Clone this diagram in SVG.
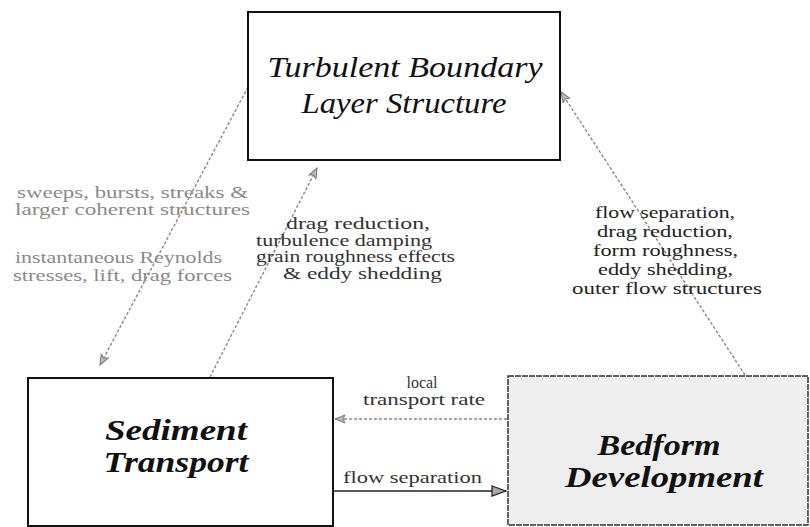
<svg xmlns="http://www.w3.org/2000/svg" width="810" height="527" viewBox="0 0 810 527">
<defs>
<marker id="ah" viewBox="0 0 12 10" refX="11" refY="5" markerWidth="12" markerHeight="10" markerUnits="userSpaceOnUse" orient="auto">
<path d="M1,1 L11,5 L1,9 L3,5 Z" fill="#bbb" stroke="#777" stroke-width="1"/>
</marker>
<marker id="ahs" viewBox="0 0 16 12" refX="15" refY="6" markerWidth="16" markerHeight="12" markerUnits="userSpaceOnUse" orient="auto">
<path d="M1,1 L15,6 L1,11 Z" fill="#aaa" stroke="#222" stroke-width="1.3"/>
</marker>
</defs>
<style>
.box{fill:#fff;stroke:#111;stroke-width:2}
.bed{fill:#eeeeee;stroke:#333;stroke-width:1.5;stroke-dasharray:6 1}
.title{font-family:"Liberation Serif",serif;font-style:italic;font-size:29px;fill:#111;text-anchor:middle}
.bold{font-weight:bold;font-size:30px}
.lbl{font-family:"Liberation Serif",serif;font-size:16px}
.gray{fill:#8a8a8a}
.mid{fill:#333}
.dark{fill:#222}
.dash{fill:none;stroke:#888;stroke-width:1.4;stroke-dasharray:3 2}
.solid{fill:none;stroke:#222;stroke-width:1.4}
</style>
<rect width="810" height="527" fill="#fff"/>
<g id="connectors">
<line class="dash" x1="248" y1="87" x2="100" y2="365" marker-end="url(#ah)"/>
<line class="dash" x1="210" y1="377" x2="317" y2="168" marker-end="url(#ah)"/>
<line class="dash" x1="745" y1="375" x2="561" y2="92" marker-end="url(#ah)"/>
<line class="dash" x1="507" y1="419" x2="335" y2="419" marker-end="url(#ah)"/>
<line class="solid" x1="334" y1="491" x2="506" y2="491" marker-end="url(#ahs)"/>
<g class="lbl gray">
<text x="17" y="198" textLength="231" lengthAdjust="spacingAndGlyphs">sweeps, bursts, streaks &amp;</text>
<text x="15" y="215" textLength="235" lengthAdjust="spacingAndGlyphs">larger coherent structures</text>
<text x="15" y="263" textLength="207" lengthAdjust="spacingAndGlyphs">instantaneous Reynolds</text>
<text x="13" y="281" textLength="219" lengthAdjust="spacingAndGlyphs">stresses, lift, drag forces</text>
</g>
<g class="lbl mid">
<text x="286" y="229" textLength="144" lengthAdjust="spacingAndGlyphs">drag reduction,</text>
<text x="256" y="246" textLength="176" lengthAdjust="spacingAndGlyphs">turbulence damping</text>
<text x="256" y="262" textLength="199" lengthAdjust="spacingAndGlyphs">grain roughness effects</text>
<text x="283" y="279" textLength="159" lengthAdjust="spacingAndGlyphs">&amp; eddy shedding</text>
</g>
<g class="lbl dark">
<text x="595" y="218" textLength="140" lengthAdjust="spacingAndGlyphs">flow separation,</text>
<text x="597" y="237" textLength="136" lengthAdjust="spacingAndGlyphs">drag reduction,</text>
<text x="593" y="256" textLength="145" lengthAdjust="spacingAndGlyphs">form roughness,</text>
<text x="598" y="275" textLength="135" lengthAdjust="spacingAndGlyphs">eddy shedding,</text>
<text x="572" y="294" textLength="190" lengthAdjust="spacingAndGlyphs">outer flow structures</text>
</g>
<g class="lbl mid">
<text x="422" y="388" text-anchor="middle">local</text>
<text x="363" y="405" textLength="122" lengthAdjust="spacingAndGlyphs">transport rate</text>
<text x="343" y="483" textLength="139" lengthAdjust="spacingAndGlyphs">flow separation</text>
</g>
</g>
<g id="tbl">
<rect class="box" x="248" y="12" width="312" height="148"/>
<text class="title" x="405" y="77" textLength="275" lengthAdjust="spacingAndGlyphs">Turbulent Boundary</text>
<text class="title" x="404" y="113" textLength="205" lengthAdjust="spacingAndGlyphs">Layer Structure</text>
</g>
<g id="sediment">
<rect class="box" x="28" y="378" width="305" height="148"/>
<text class="title bold" x="176" y="440" textLength="142" lengthAdjust="spacingAndGlyphs">Sediment</text>
<text class="title bold" x="176" y="472" textLength="145" lengthAdjust="spacingAndGlyphs">Transport</text>
</g>
<g id="bedform">
<rect class="bed" x="508" y="376" width="300" height="149"/>
<text class="title bold" x="659" y="455" textLength="123" lengthAdjust="spacingAndGlyphs">Bedform</text>
<text class="title bold" x="664" y="487" textLength="198" lengthAdjust="spacingAndGlyphs">Development</text>
</g>
</svg>
